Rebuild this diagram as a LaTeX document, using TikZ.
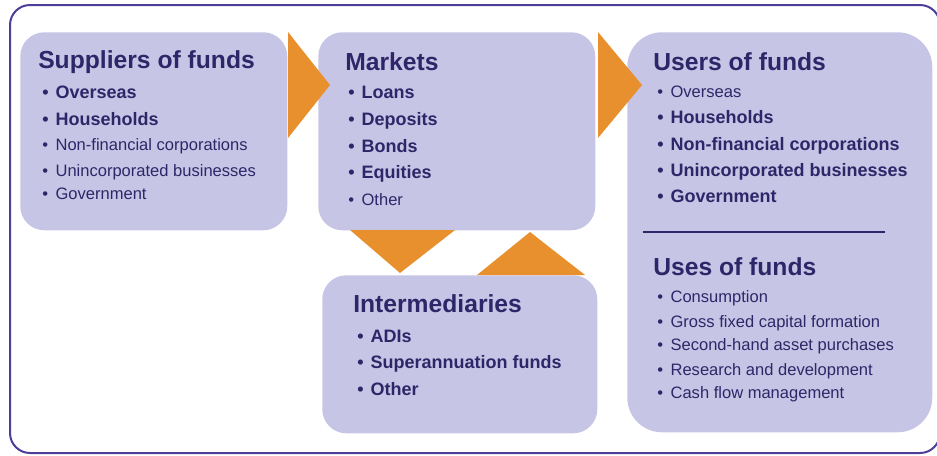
\documentclass[tikz,border=0pt]{standalone}
\usepackage{fontspec}
\setmainfont{Liberation Sans}
\usetikzlibrary{positioning}

\definecolor{boxfill}{HTML}{C7C5E5}
\definecolor{navy}{HTML}{2E2668}
\definecolor{framecol}{HTML}{4B3F9A}
\definecolor{flowor}{HTML}{E8902E}

\newcommand{\itembold}{\bfseries\fontsize{13.5}{15}\selectfont}
\newcommand{\itemplain}{\fontsize{12.4}{14}\selectfont}
\newcommand{\bulletmark}{\makebox[10pt][l]{\textbullet}}

\tikzset{
  panel/.style={fill=boxfill, draw=none, rounded corners=18pt, anchor=north west, inner sep=0pt},
  heading/.style={anchor=base west, inner sep=0pt, text=navy, font=\bfseries\fontsize{18.5}{20}\selectfont},
  entry/.style={anchor=base west, inner sep=0pt, text=navy},
  flow/.style={fill=flowor}
}

\begin{document}
\begin{tikzpicture}[x=0.75pt, y=-0.75pt]
  \useasboundingbox (0,0) rectangle (937,455);
  \draw[framecol, line width=1.5pt, rounded corners=15pt] (10,5) rectangle (940,453);

  % boxes
  \node[panel, minimum width=200.25pt, minimum height=148.5pt] (suppliers) at (20,32) {};
  \node[panel, minimum width=207.75pt, minimum height=148.5pt] (markets) at (318,32) {};
  \node[panel, minimum width=228.75pt, minimum height=300pt, rounded corners=26pt] (users) at (627,32) {};
  \node[panel, minimum width=206.25pt, minimum height=118.5pt] (intermed) at (322,275) {};

  % orange arrows
  \fill[flow] (288,32) -- (288,138) -- (330,85) -- cycle;
  \fill[flow] (598,32) -- (598,138) -- (642,85) -- cycle;
  \fill[flow] (350,230) -- (455,230) -- (400,273) -- cycle;
  \fill[flow] (477,275) -- (585,275) -- (530,232) -- cycle;

  % suppliers
  \node[heading] (sup-title) at (38,68) {Suppliers of funds};
  \foreach \txt/\f/\y [count=\i] in {Overseas/\itembold/98, Households/\itembold/125,
      Non-financial corporations/\itemplain/150, Unincorporated businesses/\itemplain/176,
      Government/\itemplain/199}
    \node[entry, font=\f] (sup-\i) at (42,\y) {\bulletmark\txt};

  % markets
  \node[heading] (mkt-title) at (345,70) {Markets};
  \foreach \txt/\f/\y [count=\i] in {Loans/\itembold/98, Deposits/\itembold/125,
      Bonds/\itembold/152, Equities/\itembold/178, Other/\itemplain/205}
    \node[entry, font=\f] (mkt-\i) at (348,\y) {\bulletmark\txt};

  % users
  \node[heading] (usr-title) at (653,70) {Users of funds};
  \foreach \txt/\f/\y [count=\i] in {Overseas/\itemplain/97, Households/\itembold/123,
      Non-financial corporations/\itembold/150, Unincorporated businesses/\itembold/176,
      Government/\itembold/202}
    \node[entry, font=\f] (usr-\i) at (657,\y) {\bulletmark\txt};

  \draw[navy, line width=1.5pt] (643,232) -- (885,232);

  % uses
  \node[heading] (use-title) at (653,275) {Uses of funds};
  \foreach \txt/\y [count=\i] in {Consumption/302, Gross fixed capital formation/327,
      Second-hand asset purchases/350, Research and development/375,
      Cash flow management/398}
    \node[entry, font=\itemplain] (use-\i) at (657,\y) {\bulletmark\txt};

  % intermediaries
  \node[heading] (int-title) at (353,312) {Intermediaries};
  \foreach \txt/\y [count=\i] in {ADIs/342, Superannuation funds/368, Other/395}
    \node[entry, font=\itembold] (int-\i) at (357,\y) {\bulletmark\txt};
\end{tikzpicture}
\end{document}
